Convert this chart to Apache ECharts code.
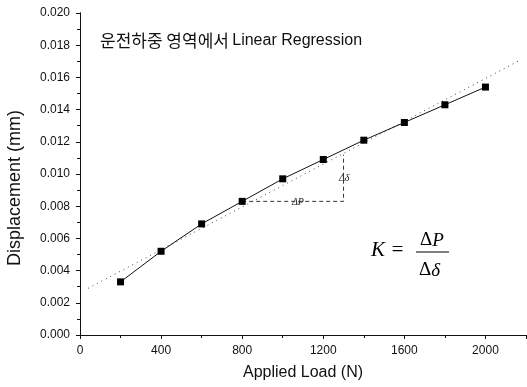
<!DOCTYPE html>
<html>
<head>
<meta charset="utf-8">
<script src="https://cdn.jsdelivr.net/npm/echarts@6/dist/echarts.min.js"></script>
<style>
  html, body { margin: 0; padding: 0; background: #fff; }
  #chart { width: 527px; height: 387px; }
</style>
</head>
<body>
<div id="chart"></div>
<script>
// measured load (N) and displacement (mm)
const loads = [200, 400, 600, 800, 1000, 1200, 1400, 1600, 1800, 2000]
const displacements = [0.0033, 0.0052, 0.0069, 0.0083, 0.0097, 0.0109, 0.0121, 0.0132, 0.0143, 0.0154]

// linear regression line (end points)
const fitLoads = [40, 2160]
const fitValues = [0.0029, 0.0170]

// delta-P / delta-delta triangle
const triLoads = [800, 1300, 1300]
const triValues = [0.0083, 0.0083, 0.0112]

const chart = echarts.init(document.getElementById('chart'), null, { renderer: 'canvas' })

const sans = '"Liberation Sans", Arial, sans-serif'
const serif = '"Liberation Serif", "Times New Roman", serif'

chart.setOption({
  animation: false,
  grid: { left: 80, right: 1, top: 13, bottom: 52, containLabel: false, outerBoundsMode: 'none' },
  xAxis: [
    {
      type: 'value',
      min: 0,
      max: 2200,
      interval: 400,
      name: 'Applied Load (N)',
      nameLocation: 'middle',
      nameGap: 30,
      nameTextStyle: { fontFamily: sans, fontSize: 16, color: '#111' },
      axisLine: { lineStyle: { color: '#111', width: 1 } },
      axisTick: { length: 4, lineStyle: { color: '#111' } },
      minorTick: { show: true, splitNumber: 2, length: 3, lineStyle: { color: '#111' } },
      axisLabel: {
        fontFamily: sans, fontSize: 12, color: '#111', margin: 10,
        formatter: v => (v > 2000 ? '' : v)
      },
      splitLine: { show: false }
    },
    {
      type: 'value',
      position: 'top',
      min: 0,
      max: 2200,
      axisLine: { lineStyle: { color: '#111', width: 1 } },
      axisTick: { show: false },
      axisLabel: { show: false },
      splitLine: { show: false }
    }
  ],
  yAxis: [
    {
      type: 'value',
      min: 0,
      max: 0.02,
      interval: 0.002,
      name: 'Displacement (mm)',
      nameLocation: 'middle',
      nameGap: 56,
      nameTextStyle: { fontFamily: sans, fontSize: 18, color: '#111', padding: [0, 28, 0, 0] },
      axisLine: { show: true, lineStyle: { color: '#111', width: 1 } },
      axisTick: { show: true, length: 4, lineStyle: { color: '#111' } },
      minorTick: { show: true, splitNumber: 2, length: 3, lineStyle: { color: '#111' } },
      axisLabel: {
        fontFamily: sans, fontSize: 12, color: '#111', margin: 10,
        formatter: v => v.toFixed(3)
      },
      splitLine: { show: false }
    },
    {
      type: 'value',
      position: 'right',
      min: 0,
      max: 0.02,
      axisLine: { show: true, lineStyle: { color: '#111', width: 1 } },
      axisTick: { show: false },
      axisLabel: { show: false },
      splitLine: { show: false }
    }
  ],
  series: [
    {
      name: 'regression',
      type: 'line',
      data: fitLoads.map((x, i) => [x, fitValues[i]]),
      symbol: 'none',
      lineStyle: { color: '#444', width: 1, type: [1, 4] },
      z: 1
    },
    {
      name: 'triangle',
      type: 'line',
      data: triLoads.map((x, i) => [x, triValues[i]]),
      symbol: 'none',
      lineStyle: { color: '#333', width: 1, type: [4, 3] },
      z: 1
    },
    {
      name: 'measured',
      type: 'line',
      data: loads.map((x, i) => [x, displacements[i]]),
      symbol: 'rect',
      symbolSize: 7,
      itemStyle: { color: '#000' },
      lineStyle: { color: '#111', width: 1 },
      z: 3
    }
  ],
  graphic: [
    {
      type: 'text', left: 100, top: 32,
      style: {
        text: '{ko|운전하중 영역에서} {en|Linear Regression}',
        rich: {
          ko: { fontFamily: '"Noto Sans CJK KR", sans-serif', fontSize: 17, fill: '#111' },
          en: { fontFamily: sans, fontSize: 16, fill: '#111' }
        }
      }
    },
    {
      type: 'text', left: 290, top: 197,
      style: { text: 'ΔP', font: 'italic 10px ' + serif, fill: '#222', backgroundColor: '#fff', padding: [0, 2] }
    },
    {
      type: 'text', left: 338, top: 173,
      style: { text: 'Δδ', font: 'italic 10px ' + serif, fill: '#222', backgroundColor: '#fff', padding: [0, 1] }
    },
    {
      type: 'text', left: 371, top: 240,
      style: { text: 'K =', font: 'italic 21px ' + serif, fill: '#000' }
    },
    {
      type: 'text', left: 420, top: 231,
      style: {
        text: 'Δ{i|P}',
        font: '19px ' + serif, fill: '#000',
        rich: { i: { fontFamily: serif, fontStyle: 'italic', fontSize: 19 } }
      }
    },
    {
      type: 'line',
      shape: { x1: 416, y1: 252, x2: 449, y2: 252 },
      style: { stroke: '#000', lineWidth: 1 }
    },
    {
      type: 'text', left: 419, top: 261,
      style: {
        text: 'Δ{i|δ}',
        font: '19px ' + serif, fill: '#000',
        rich: { i: { fontFamily: serif, fontStyle: 'italic', fontSize: 19 } }
      }
    }
  ]
})
</script>
</body>
</html>
